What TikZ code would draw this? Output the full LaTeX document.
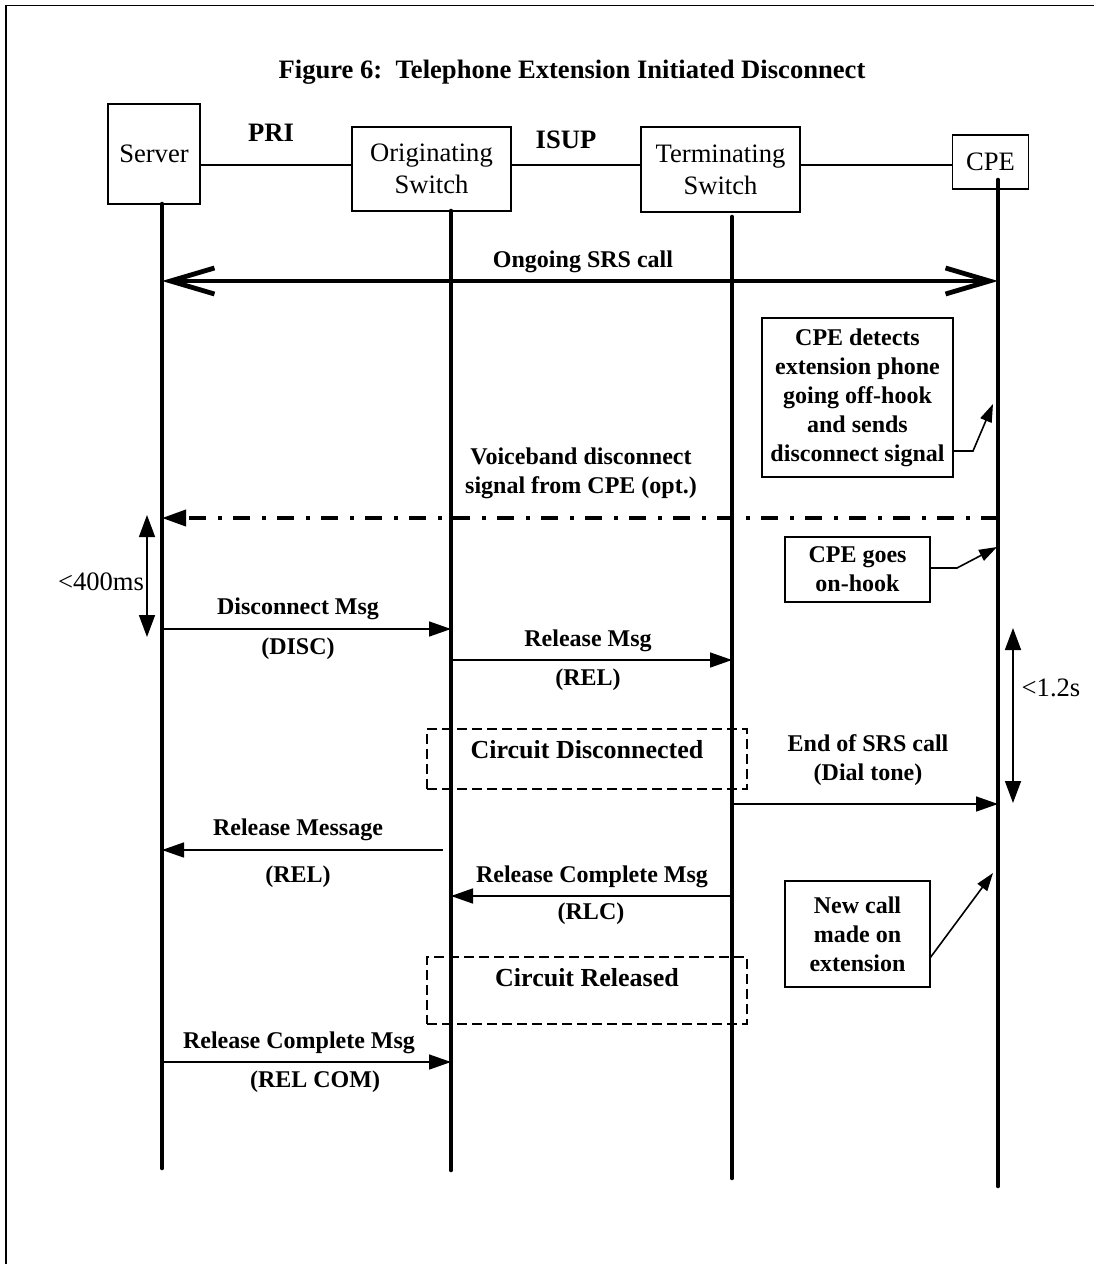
\documentclass[tikz,border=0pt]{standalone}
\usepackage{fontspec}
\setmainfont{Liberation Serif}
\usetikzlibrary{positioning,arrows.meta}

\begin{document}
\begin{tikzpicture}[x=0.5pt, y=-0.5pt,
    party/.style={draw, line width=0.8pt, align=center, inner sep=0pt, font=\fontsize{13.3}{16}\selectfont},
    lbl/.style={align=center, inner sep=1pt, font=\bfseries\fontsize{12}{14.5}\selectfont},
    tlbl/.style={inner sep=1pt, font=\fontsize{13.3}{16}\selectfont},
    note/.style={draw, line width=0.8pt, lbl},
    phase/.style={draw, line width=0.9pt, dash pattern=on 5pt off 2.5pt, inner sep=0pt},
    phasetxt/.style={inner sep=2pt, font=\bfseries\fontsize{13}{15}\selectfont},
    life/.style={line width=2.3pt, line cap=round},
    call/.style={line width=2.4pt, {Straight Barb[length=22pt,width=13pt]}-{Straight Barb[length=22pt,width=13pt]}},
    vsig/.style={line width=1.9pt, dash pattern=on 8.5pt off 5.75pt on 2pt off 5.75pt, -{Triangle[length=12pt,width=8pt]}},
    msg/.style={line width=0.8pt, -{Triangle[length=11pt,width=7.5pt]}},
    ptr/.style={line width=0.8pt, -{Triangle[length=9pt,width=6pt]}},
    span/.style={line width=0.8pt, {Triangle[length=11pt,width=8pt]}-{Triangle[length=11pt,width=8pt]}}]
    \useasboundingbox (0,0) rectangle (1094,1264);
    \draw[line width=0.9pt] (6,1264) -- (6,5.5) -- (1094,5.5);

    \node[font=\bfseries\fontsize{13.3}{16}\selectfont] (title) at (572,72) {Figure 6:\ \ Telephone Extension Initiated Disconnect};

    % participants
    \node[party, minimum width=46pt, minimum height=50pt] (srv) at (154,154) {Server};
    \node[party, minimum width=79.5pt, minimum height=42pt] (orig) at (431.5,169) {Originating\\Switch};
    \node[party, minimum width=79.5pt, minimum height=42.5pt] (term) at (720.5,169.5) {Terminating\\Switch};
    \node[party, minimum width=38pt, minimum height=27pt] (cpe) at (990.5,162) {CPE};

    \coordinate (lnk) at (0,165);
    \draw[line width=0.8pt] (srv.east |- lnk) -- (orig.west |- lnk);
    \draw[line width=0.8pt] (orig.east |- lnk) -- (term.west |- lnk);
    \draw[line width=0.8pt] (term.east |- lnk) -- (cpe.west |- lnk);
    \node[lbl, font=\bfseries\fontsize{13.3}{16}\selectfont] (pri) at (271,133) {PRI};
    \node[lbl, font=\bfseries\fontsize{13.3}{16}\selectfont] (isup) at (566,140) {ISUP};

    % lifelines
    \coordinate (sv) at (162,204);  \coordinate (svend) at (162,1168);
    \coordinate (ov) at (451,211);  \coordinate (ovend) at (451,1170);
    \coordinate (tv) at (732,217);  \coordinate (tvend) at (732,1178);
    \coordinate (cv) at (998,180);  \coordinate (cvend) at (998,1186);
    \draw[life] (sv) -- (svend);
    \draw[life] (ov) -- (ovend);
    \draw[life] (tv) -- (tvend);
    \draw[life] (cv) -- (cvend);

    % message rows
    \coordinate (r0) at (0,281);
    \coordinate (r1) at (0,518);
    \coordinate (r2) at (0,629);
    \coordinate (r3) at (0,660);
    \coordinate (r4) at (0,804);
    \coordinate (r5) at (0,850);
    \coordinate (r6) at (0,896);
    \coordinate (r7) at (0,1062);

    \draw[call] (sv |- r0) -- (cv |- r0);
    \node[lbl] (ongoing) at (583,262) {Ongoing SRS call};

    % CPE notes
    \node[note, minimum width=95.5pt, minimum height=79.5pt] (detect) at (857.5,397.5) {CPE detects\\extension phone\\going off-hook\\and sends\\disconnect signal};
    \coordinate (detbend) at (973,451);
    \coordinate (detpt) at (993,404);
    \draw[ptr] (detect.east |- detbend) -- (detbend) -- (detpt);

    \node[lbl] (voice) at (581,473) {Voiceband disconnect\\signal from CPE (opt.)};
    \draw[vsig] (cv |- r1) -- (sv |- r1);

    \node[note, minimum width=72.5pt, minimum height=32.5pt] (onhook) at (857.5,569.5) {CPE goes\\on-hook};
    \coordinate (onbend) at (957,568);
    \coordinate (onpt) at (997,547);
    \draw[ptr] (onhook.east |- onbend) -- (onbend) -- (onpt);

    % timers
    \coordinate (t4a) at (147,515);
    \coordinate (t4b) at (147,637);
    \draw[span] (t4a) -- (t4b);
    \node[tlbl] (t400) at (101,582) {<400ms};
    \coordinate (t12a) at (1013,628);
    \coordinate (t12b) at (1013,803);
    \draw[span] (t12a) -- (t12b);
    \node[tlbl] (t12) at (1051,688) {<1.2s};

    % disconnect
    \draw[msg] (sv |- r2) -- (ov |- r2);
    \node[lbl] (disc) at (298,609) {Disconnect Msg};
    \node[lbl] (discb) at (298,649) {(DISC)};
    \draw[msg] (ov |- r3) -- (tv |- r3);
    \node[lbl] (rel) at (588,641) {Release Msg};
    \node[lbl] (relb) at (588,680) {(REL)};

    \node[phase, minimum width=160pt, minimum height=30pt] (cdisc) at (587,759) {};
    \node[phasetxt, below=4pt of cdisc.north] (cdisctxt) {Circuit Disconnected};

    \draw[msg] (tv |- r4) -- (cv |- r4);
    \node[lbl] (endcall) at (868,760) {End of SRS call\\(Dial tone)};

    % release
    \draw[msg, shorten <=4pt] (ov |- r5) -- (sv |- r5);
    \node[lbl] (relmsg) at (298,830) {Release Message};
    \node[lbl] (relmsgb) at (298,877) {(REL)};
    \draw[msg] (tv |- r6) -- (ov |- r6);
    \node[lbl] (rlc) at (592,877) {Release Complete Msg};
    \node[lbl] (rlcb) at (591,914) {(RLC)};

    \node[note, minimum width=72.5pt, minimum height=53pt] (newcall) at (857.5,934) {New call\\made on\\extension};
    \coordinate (ncfoot) at (930,958);
    \coordinate (ncpt) at (993,873);
    \draw[ptr] (ncfoot) -- (ncpt);

    \node[phase, minimum width=160pt, minimum height=33.5pt] (crel) at (587,990.5) {};
    \node[phasetxt, below=4pt of crel.north] (creltxt) {Circuit Released};

    \draw[msg] (sv |- r7) -- (ov |- r7);
    \node[lbl] (relcom) at (299,1043) {Release Complete Msg};
    \node[lbl] (relcomb) at (315,1082) {(REL COM)};
\end{tikzpicture}
\end{document}
